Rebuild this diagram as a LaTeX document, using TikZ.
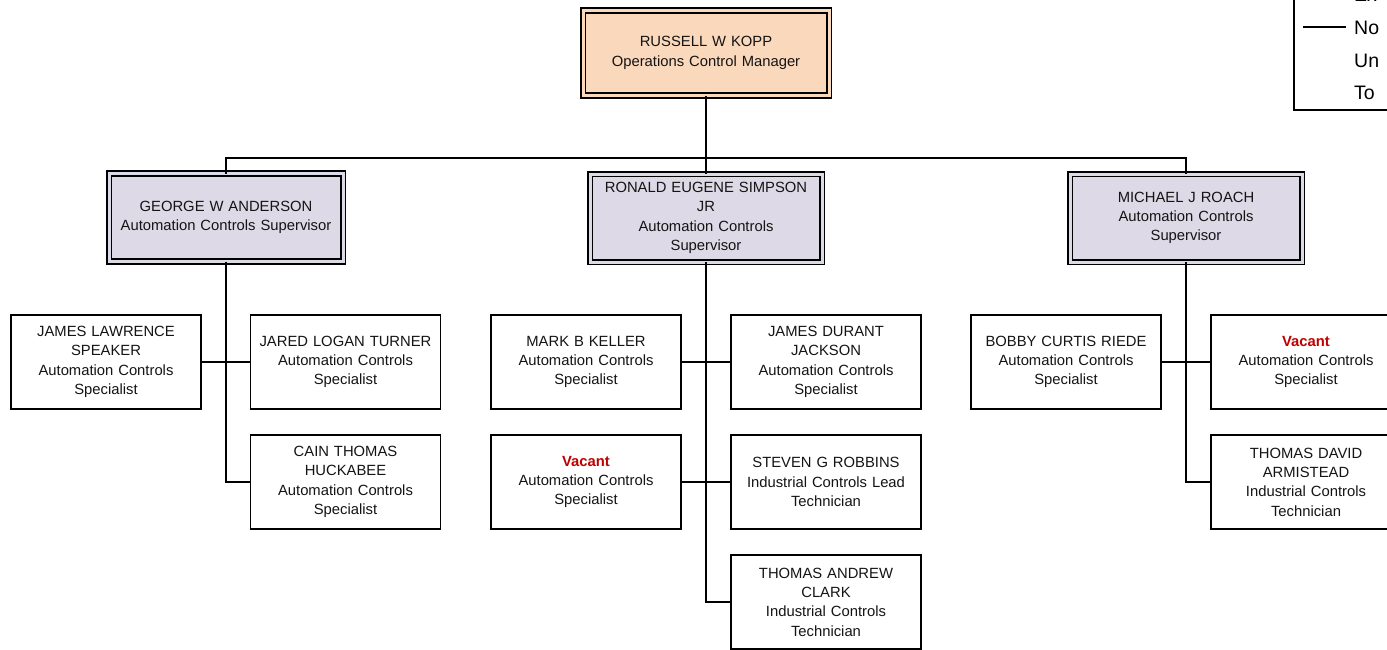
\documentclass[tikz,border=0pt]{standalone}
\usepackage{fontspec}
\setmainfont{Liberation Sans}
\definecolor{peach}{RGB}{250,216,188}
\definecolor{lav}{RGB}{221,217,230}
\definecolor{vacred}{RGB}{192,0,0}
\begin{document}
\begin{tikzpicture}[x=1pt,y=-1pt,
  every node/.style={inner sep=0pt, outer sep=0pt},
  box/.style={draw=black, line width=1.8pt, fill=white, minimum width=190pt, minimum height=94pt,
    align=center, text width=188pt, font=\fontsize{14.8}{19.3}\selectfont, text=black!92},
  dbox/.style={box, double distance=3pt, line width=1.6pt},
  mgr/.style={dbox, double=peach, fill=peach, minimum width=246pt, minimum height=85pt, text width=230pt},
  sup/.style={dbox, double=lav, fill=lav, minimum width=232pt, minimum height=88pt, text width=230pt},
  conn/.style={line width=1.9pt, draw=black},
]
\useasboundingbox (0,0) rectangle (1387,649);
\clip (0,0) rectangle (1387,649);

% legend
\draw[line width=1.8pt] (1294,-10) -- (1294,110) -- (1400,110);
\coordinate (lgA) at (1303,27);
\coordinate (lgB) at (1346,27);
\draw[line width=1.2pt] (lgA) -- (lgB);
\begin{scope}[every node/.style={anchor=base west, font=\fontsize{19.5}{22}\selectfont, inner sep=0pt}]
\node (lg1) at (1354,1.5) {Ex};
\node (lg2) at (1354,34) {No};
\node (lg3) at (1354,67) {Un};
\node (lg4) at (1354,99) {To};
\end{scope}

% manager
\node[mgr] (top) at (706,53) {RUSSELL W KOPP\\Operations Control Manager};

% supervisors
\node[sup, minimum width=234pt] (geo) at (226,217.5) {GEORGE W ANDERSON\\Automation Controls Supervisor};
\node[sup] (ron) at (706,218) {RONALD EUGENE SIMPSON\\JR\\Automation Controls\\Supervisor};
\node[sup] (mic) at (1186,218) {MICHAEL J ROACH\\Automation Controls\\Supervisor};

% specialists
\node[box] (jls) at (106,362) {JAMES LAWRENCE\\SPEAKER\\Automation Controls\\Specialist};
\node[box] (jlt) at (345.5,362) {JARED LOGAN TURNER\\Automation Controls\\Specialist};
\node[box] (cth) at (345.5,482) {CAIN THOMAS\\HUCKABEE\\Automation Controls\\Specialist};

\node[box] (mbk) at (586,362) {MARK B KELLER\\Automation Controls\\Specialist};
\node[box] (jdj) at (826,362) {JAMES DURANT\\JACKSON\\Automation Controls\\Specialist};
\node[box] (va1) at (586,482) {{\color{vacred}\bfseries Vacant}\\Automation Controls\\Specialist};
\node[box] (sgr) at (826,482) {STEVEN G ROBBINS\\Industrial Controls Lead\\Technician};
\node[box] (tac) at (826,602) {THOMAS ANDREW\\CLARK\\Industrial Controls\\Technician};

\node[box] (bcr) at (1066,362) {BOBBY CURTIS RIEDE\\Automation Controls\\Specialist};
\node[box] (va2) at (1306,362) {{\color{vacred}\bfseries Vacant}\\Automation Controls\\Specialist};
\node[box] (tda) at (1306,482) {THOMAS DAVID\\ARMISTEAD\\Industrial Controls\\Technician};

% connectors
\coordinate (bus) at (706,158);
\draw[conn] (top.south) -- (bus);
\draw[conn] (geo.north) -- (geo.north |- bus) -- (mic.north |- bus) -- (mic.north);
\draw[conn] (bus) -- (ron.north);

\draw[conn] (geo.south) |- (cth.west);
\draw[conn] (jls.east) -- (jlt.west);

\draw[conn] (ron.south) |- (tac.west);
\draw[conn] (mbk.east) -- (jdj.west);
\draw[conn] (va1.east) -- (sgr.west);

\draw[conn] (mic.south) |- (tda.west);
\draw[conn] (bcr.east) -- (va2.west);
\end{tikzpicture}
\end{document}
